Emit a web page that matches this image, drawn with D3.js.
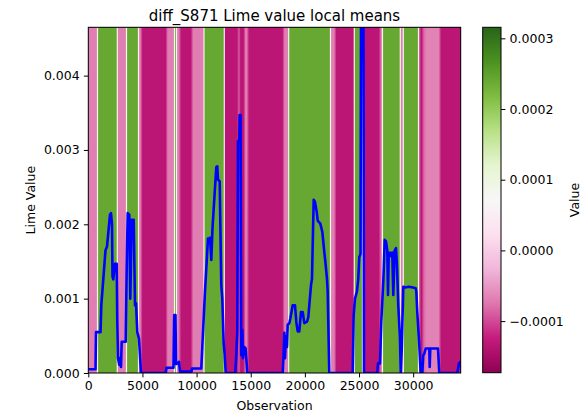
<!DOCTYPE html>
<html>
<head>
<meta charset="utf-8">
<script src="https://cdn.jsdelivr.net/npm/d3@7"></script>
<style>
  html, body { margin: 0; padding: 0; background: #ffffff; }
  svg text { font-family: "DejaVu Sans", sans-serif; fill: #000; }
</style>
</head>
<body>
<svg id="chart" width="582" height="413"></svg>
<script>
// ---------- data ----------
const titleText = "diff_S871 Lime value local means";
const xLabel = "Observation";
const yLabel = "Lime Value";
const cbLabel = "Value";

const xMax = 34388;
const yMax = 0.00465;
const cbMin = -0.000173;
const cbMax = 0.0003156;

const xTicks = [0, 5000, 10000, 15000, 20000, 25000, 30000];
const yTicks = [0, 0.001, 0.002, 0.003, 0.004];
const cbTicks = [-0.0001, 0, 0.0001, 0.0002, 0.0003];

// background bands: start observation and local mean value
const bandStarts = [0, 850, 2678, 3527, 4635, 4912, 7239, 7959, 8144, 8467, 9575, 10683, 12558, 13850, 13961, 14423, 14746, 18024, 18504, 22364, 22807, 24561, 25319, 26934, 27165, 28809, 29086, 30490, 30628, 30887, 31136, 32475];
const bandValues = [-0.0000695, 0.000241, -0.0000695, 0.000241, -0.0000695, -0.000133, -0.0000695, 0.000241, -0.0000695, -0.000133, -0.0000695, 0.000241, -0.000133, -0.0000695, -0.000133, -0.0000695, -0.000133, -0.0000695, 0.000241, -0.0000695, -0.000133, 0.000241, -0.000133, -0.0000695, 0.000241, -0.0000695, 0.000241, -0.0000695, -0.000133, -0.00008, -0.000066, -0.000133];

// lime value line
const lineObs = [0, 665, 711, 1127, 1200, 1588, 1727, 2004, 2096, 2188, 2235, 2309, 2465, 2622, 2678, 2742, 2863, 2927, 3020, 3084, 3454, 3546, 3638, 3786, 3878, 4008, 4192, 4312, 4405, 4525, 4682, 4866,
  7147, 7221, 7867, 7932, 8052, 8098, 8283, 8375, 8468, 9529, 9576, 10434, 10527, 10776, 11053, 11145, 11238, 11358, 11469, 11820, 11912, 11977, 12133, 12281, 12374, 12503, 12595, 12688,
  13574, 13666, 13759, 13823, 13943, 13971, 14063, 14119, 14220, 14285, 14405, 14525, 14682,
  17951, 18043, 18099, 18163, 18256, 18348, 18413, 18560, 18653, 18874, 19087, 19207, 19336, 19484, 19641, 19798, 19945, 20195, 20315, 20407, 20564, 20656, 20813, 20933, 21090, 21183, 21423, 21608, 21792, 21885, 22041, 22106, 22254,
  24415, 24507, 24627, 24812, 24932, 25024, 25135, 25209, 25394, 25458,
  26686, 26751, 26936, 27056, 27240, 27370, 27490, 27610, 27674, 27739, 27859, 27979, 28071, 28164, 28293, 28413, 28505, 28625, 28782, 28847, 28939, 29087, 29244, 29613, 29983, 30232, 30288, 30380, 30537, 30694,
  30842, 30934, 31026, 31156, 31488, 31525, 31580, 32291, 32411, 34073, 34230, 34388];
const lineVals = [0.00005, 0.00005, 0.00055, 0.00055, 0.00091, 0.00165, 0.00170, 0.00213, 0.00215, 0.00200, 0.00130, 0.00126, 0.00147, 0.00147, 0.00069, 0.00020, 0.00011, 0.00020, 0.00008, 0.00042, 0.00042, 0.00141, 0.00215, 0.00213, 0.00100, 0.00206, 0.00206, 0.00091, 0.00094, 0.00055, 0.00046, 0,
  0, 0.00007, 0.00007, 0.00078, 0.00078, 0.00012, 0.00013, 0.00015, 0.00002, 0.00002, 0.00006, 0.00006, 0.00035, 0.00110, 0.00181, 0.00178, 0.00182, 0.00152, 0.00195, 0.00277, 0.00278, 0.00260, 0.00258, 0.00118, 0.00100, 0.00040, 0.00025, 0,
  0, 0.00024, 0.00056, 0.00312, 0.00312, 0.00347, 0.00347, 0.00024, 0.00058, 0.00020, 0.00035, 0.00033, 0,
  0, 0.00029, 0.00054, 0.00020, 0.00049, 0.00035, 0.00065, 0.00067, 0.00073, 0.00091, 0.00091, 0.00069, 0.00056, 0.00056, 0.00082, 0.00082, 0.00067, 0.00069, 0.00075, 0.00091, 0.00118, 0.00127, 0.00233, 0.00230, 0.00217, 0.00205, 0.00201, 0.00190, 0.00163, 0.00150, 0.00127, 0.00110, 0,
  0, 0.00078, 0.00100, 0.00110, 0.00127, 0.00156, 0.00160, 0.0065, 0.0065, 0,
  0, 0.00013, 0.00013, 0.00069, 0.00123, 0.00179, 0.00177, 0.00165, 0.00105, 0.00161, 0.00162, 0.00157, 0.00162, 0.00105, 0.00165, 0.00168, 0.00145, 0.00091, 0.00047, 0, 0.00030, 0.00116, 0.00115, 0.00116, 0.00115, 0.00114, 0.00110, 0.00082, 0.00045, 0,
  0, 0.00024, 0.00026, 0.00033, 0.00033, 0.00008, 0.00033, 0.00033, 0, 0, 0.00013, 0.00015];

// PiYG colormap anchors (matplotlib / ColorBrewer)
const piygColors = ["#8e0152", "#c51b7d", "#de77ae", "#f1b6da", "#fde0ef", "#f7f7f7", "#e6f5d0", "#b8e186", "#7fbc41", "#4d9221", "#276419"];

// ---------- layout ----------
const svg = d3.select("#chart");
const plot = { left: 88.3, right: 460.7, top: 27.3, bottom: 373 };
const cb = { left: 482.7, right: 501, top: 27.3, bottom: 372.7 };
const fs = 12.5;

const x = d3.scaleLinear().domain([0, xMax]).range([plot.left, plot.right]);
const y = d3.scaleLinear().domain([0, yMax]).range([plot.bottom, plot.top]);
const tNorm = d3.scaleLinear().domain([cbMin, cbMax]).range([0, 1]).clamp(true);
const piyg = d3.scaleLinear()
  .domain(piygColors.map((c, i) => i / (piygColors.length - 1)))
  .range(piygColors)
  .interpolate(d3.interpolateRgb);
const colorOf = v => piyg(tNorm(v));

// ---------- background bands ----------
const bands = bandStarts.map((s, i) => ({
  x0: s,
  x1: i < bandStarts.length - 1 ? bandStarts[i + 1] : xMax,
  v: bandValues[i]
}));
const gBands = svg.append("g");
gBands.selectAll("rect.band").data(bands).join("rect")
  .attr("class", "band")
  .attr("x", d => x(d.x0))
  .attr("y", plot.top)
  .attr("width", d => x(d.x1) - x(d.x0))
  .attr("height", plot.bottom - plot.top)
  .attr("fill", d => colorOf(d.v))
  .attr("shape-rendering", "crispEdges");

// resampling seams between neighbouring bands
const seams = bands.slice(1).map((d, i) => ({ at: d.x0, t: (tNorm(d.v) + tNorm(bands[i].v)) / 2 }));
gBands.selectAll("rect.seam").data(seams).join("rect")
  .attr("class", "seam")
  .attr("x", d => x(d.at) - 0.6)
  .attr("y", plot.top)
  .attr("width", 1.2)
  .attr("height", plot.bottom - plot.top)
  .attr("fill", d => piyg(d.t));

// ---------- line ----------
svg.append("clipPath").attr("id", "clip").append("rect")
  .attr("x", plot.left).attr("y", plot.top)
  .attr("width", plot.right - plot.left).attr("height", plot.bottom - plot.top);

const pts = lineObs.map((o, i) => [o, lineVals[i]]);
svg.append("path")
  .datum(pts)
  .attr("clip-path", "url(#clip)")
  .attr("fill", "none")
  .attr("stroke", "#0000ff")
  .attr("stroke-width", 2.6)
  .attr("stroke-linejoin", "round")
  .attr("d", d3.line().x(d => x(d[0])).y(d => y(d[1])));

// ---------- axes ----------
const xAxis = d3.axisBottom(x).tickValues(xTicks).tickFormat(d3.format("d")).tickSizeOuter(0).tickSize(4.4).tickPadding(4.2);
const yAxis = d3.axisLeft(y).tickValues(yTicks).tickFormat(d3.format(".3f")).tickSizeOuter(0).tickSize(4.4).tickPadding(4.2);

const gx = svg.append("g").attr("transform", `translate(0,${plot.bottom})`).call(xAxis);
const gy = svg.append("g").attr("transform", `translate(${plot.left},0)`).call(yAxis);
[gx, gy].forEach(g => {
  g.select(".domain").remove();
  g.selectAll("line").attr("stroke", "#000").attr("stroke-width", 1);
  g.selectAll("text").attr("font-size", fs).attr("font-family", "DejaVu Sans").attr("fill", "#000");
});

// spines
svg.append("rect")
  .attr("x", plot.left).attr("y", plot.top)
  .attr("width", plot.right - plot.left).attr("height", plot.bottom - plot.top)
  .attr("fill", "none").attr("stroke", "#000").attr("stroke-width", 1);

// ---------- titles ----------
svg.append("text").attr("x", (plot.left + plot.right) / 2).attr("y", 21)
  .attr("text-anchor", "middle").attr("font-size", 15).text(titleText);
svg.append("text").attr("x", (plot.left + plot.right) / 2).attr("y", 410)
  .attr("text-anchor", "middle").attr("font-size", fs).text(xLabel);
svg.append("text").attr("transform", `translate(35,${(plot.top + plot.bottom) / 2}) rotate(-90)`)
  .attr("text-anchor", "middle").attr("font-size", fs).text(yLabel);

// ---------- colorbar ----------
const defs = svg.append("defs");
const grad = defs.append("linearGradient").attr("id", "cbgrad")
  .attr("x1", 0).attr("y1", 1).attr("x2", 0).attr("y2", 0);
grad.selectAll("stop").data(piygColors).join("stop")
  .attr("offset", (d, i) => i / (piygColors.length - 1))
  .attr("stop-color", d => d);

svg.append("rect")
  .attr("x", cb.left).attr("y", cb.top)
  .attr("width", cb.right - cb.left).attr("height", cb.bottom - cb.top)
  .attr("fill", "url(#cbgrad)")
  .attr("stroke", "#000").attr("stroke-width", 1);

const cbScale = d3.scaleLinear().domain([cbMin, cbMax]).range([cb.bottom, cb.top]);
const cbFmt = v => {
  const s = d3.format(".4f")(Math.abs(v) < 1e-12 ? 0 : v);
  return s.replace("-", "\u2212");
};
const cbAxis = d3.axisRight(cbScale).tickValues(cbTicks).tickFormat(cbFmt).tickSizeOuter(0).tickSize(4.4).tickPadding(4.2);
const gcb = svg.append("g").attr("transform", `translate(${cb.right},0)`).call(cbAxis);
gcb.select(".domain").remove();
gcb.selectAll("line").attr("stroke", "#000").attr("stroke-width", 1);
gcb.selectAll("text").attr("font-size", fs).attr("font-family", "DejaVu Sans").attr("fill", "#000");

svg.append("text").attr("transform", `translate(579,${(cb.top + cb.bottom) / 2}) rotate(-90)`)
  .attr("text-anchor", "middle").attr("font-size", fs).text(cbLabel);
</script>
</body>
</html>
